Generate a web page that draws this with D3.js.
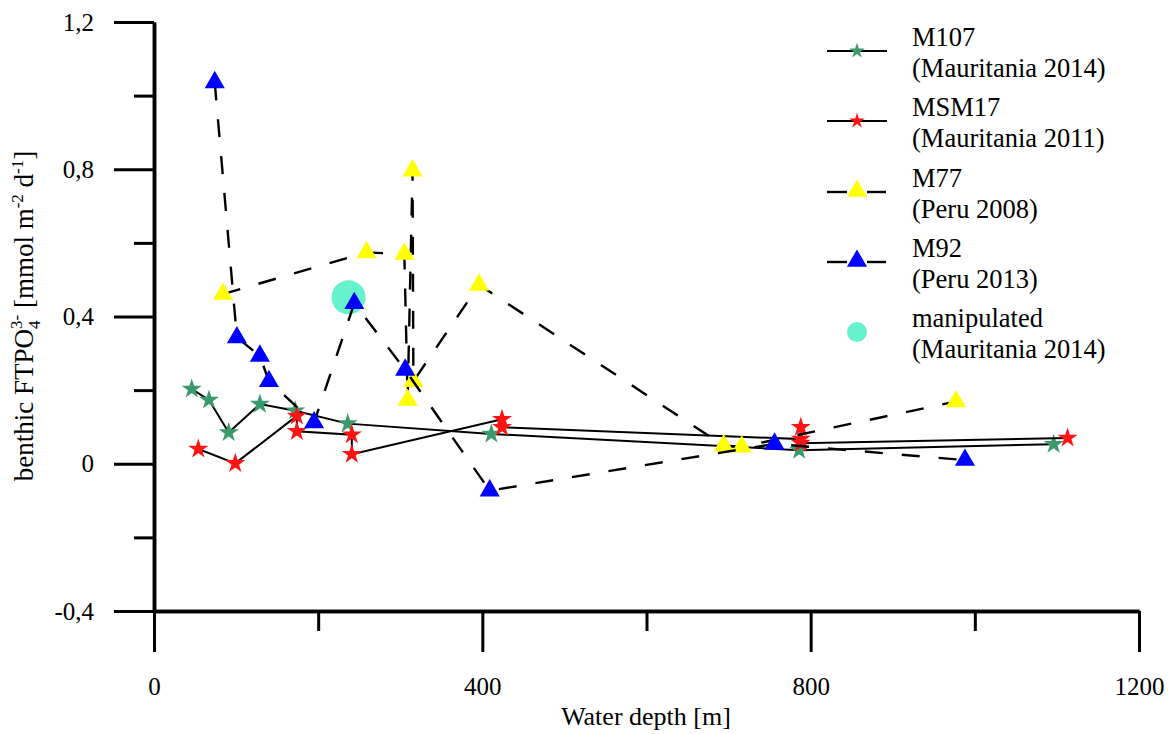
<!DOCTYPE html>
<html><head><meta charset="utf-8">
<script src="https://cdn.jsdelivr.net/npm/d3@7"></script>
<style>
html,body{margin:0;padding:0;background:#fff;}
svg{display:block;}
</style></head>
<body>
<svg id="chart" width="1172" height="734"></svg>
<script>
// ---- data ----
const m107Depth = [46, 67, 91, 129, 172, 236, 411, 786, 1096];
const m107Flux  = [0.203, 0.173, 0.085, 0.162, 0.144, 0.109, 0.081, 0.037, 0.053];

const msm17Depth = [54, 99, 174, 174, 241, 241, 424, 424, 788, 788, 788, 1113];
const msm17Flux  = [0.040, 0.001, 0.130, 0.088, 0.079, 0.026, 0.121, 0.099, 0.067, 0.099, 0.056, 0.070];

const m77Depth = [84, 259, 305, 309, 315, 316, 396, 694, 716, 977];
const m77Flux  = [0.461, 0.574, 0.570, 0.173, 0.796, 0.224, 0.486, 0.049, 0.046, 0.169];

const m92Depth = [74, 101, 129, 140, 195, 244, 306, 409, 756, 988];
const m92Flux  = [1.036, 0.343, 0.293, 0.224, 0.112, 0.436, 0.255, -0.073, 0.054, 0.010];

const manipDepth = [237];
const manipFlux  = [0.452];

const xMajorTicks = [0, 400, 800, 1200];
const xMinorTicks = [200, 600, 1000];
const yMajorTicks = [-0.4, 0, 0.4, 0.8, 1.2];
const yMajorLabels = ["-0,4", "0", "0,4", "0,8", "1,2"];
const yMinorTicks = [-0.2, 0.2, 0.6, 1.0];

const legendNames = ["M107", "MSM17", "M77", "M92", "manipulated"];
const legendSubs  = ["(Mauritania 2014)", "(Mauritania 2011)", "(Peru 2008)", "(Peru 2013)", "(Mauritania 2014)"];

// ---- setup ----
const FONT = "'Liberation Serif', 'Times New Roman', serif";
const svg = d3.select("#chart");
svg.append("rect").attr("width",1172).attr("height",734).attr("fill","#fff");

const x = d3.scaleLinear().domain([0,1200]).range([154,1139]);
const y = d3.scaleLinear().domain([-0.4,1.2]).range([611,22]);

const zip = (a,b) => a.map((d,i)=>[d,b[i]]);

const series = [
  {pts: zip(m107Depth,m107Flux), color:"#3b9a6c", shape:"star", dash:null},
  {pts: zip(msm17Depth,msm17Flux), color:"#ff1414", shape:"star", dash:null},
  {pts: zip(m77Depth,m77Flux), color:"#ffff00", shape:"tri", dash:"18,19"},
  {pts: zip(m92Depth,m92Flux), color:"#0000ff", shape:"tri", dash:"18,19"}
];

// ---- axes ----
function styleAxis(g){
  g.select(".domain").attr("stroke","#000").attr("stroke-width",3.5);
  g.selectAll(".tick line").attr("stroke","#000").attr("stroke-width",3);
  g.selectAll(".tick text").attr("font-family",FONT).attr("font-size",25).attr("fill","#000");
}
const yMinorG = svg.append("g").attr("transform","translate(154,0)")
  .call(d3.axisLeft(y).tickValues(yMinorTicks).tickSize(20).tickSizeOuter(0).tickFormat(""));
styleAxis(yMinorG);
const yMajorG = svg.append("g").attr("transform","translate(154,0)")
  .call(d3.axisLeft(y).tickValues(yMajorTicks).tickSize(40).tickSizeOuter(0).tickPadding(20)
        .tickFormat((d,i)=>yMajorLabels[i]));
styleAxis(yMajorG);

const xMinorG = svg.append("g").attr("transform","translate(0,611)")
  .call(d3.axisBottom(x).tickValues(xMinorTicks).tickSize(20).tickSizeOuter(0).tickFormat(""));
styleAxis(xMinorG);
const xMajorG = svg.append("g").attr("transform","translate(0,611)")
  .call(d3.axisBottom(x).tickValues(xMajorTicks).tickSize(41).tickSizeOuter(0).tickPadding(25)
        .tickFormat(d=>String(d)));
styleAxis(xMajorG);

// axis titles
svg.append("text").attr("x",646).attr("y",725).attr("text-anchor","middle")
  .attr("font-family",FONT).attr("font-size",26).text("Water depth [m]");

const yt = svg.append("text").attr("transform","translate(33,316) rotate(-90)")
  .attr("text-anchor","middle").attr("font-family",FONT).attr("font-size",27);
yt.append("tspan").text("benthic FTPO");
yt.append("tspan").attr("font-size",17).attr("dy",7).text("4");
yt.append("tspan").attr("font-size",17).attr("dy",-18).attr("dx",-8.5).text("3-");
yt.append("tspan").attr("dy",11).text(" [mmol m");
yt.append("tspan").attr("font-size",17).attr("dy",-10).text("-2");
yt.append("tspan").attr("dy",10).text(" d");
yt.append("tspan").attr("font-size",17).attr("dy",-10).text("-1");
yt.append("tspan").attr("dy",10).text("]");

// ---- plot ----
const starSym = d3.symbol().type(d3.symbolStar).size(125);
const triSym  = d3.symbol().type(d3.symbolTriangle).size(175);
const line = d3.line().x(d=>x(d[0])).y(d=>y(d[1]));

// manipulated circle (behind)
svg.selectAll(".manip").data(zip(manipDepth,manipFlux)).enter().append("circle")
  .attr("cx",d=>x(d[0])).attr("cy",d=>y(d[1])).attr("r",17).attr("fill","#66f2cc");

series.forEach(s=>{
  svg.append("path").datum(s.pts).attr("d",line).attr("fill","none")
    .attr("stroke","#000").attr("stroke-width",s.dash?2.4:2)
    .attr("stroke-dasharray",s.dash);
  svg.selectAll(null).data(s.pts).enter().append("path")
    .attr("d", s.shape==="star"?starSym():triSym())
    .attr("transform",d=>`translate(${x(d[0])},${y(d[1])})`)
    .attr("fill",s.color);
});

// ---- legend ----
const legendY = [51, 121, 192, 262, 332];
const lstar = d3.symbol().type(d3.symbolStar).size(75);
const ltri  = d3.symbol().type(d3.symbolTriangle).size(175);
legendNames.forEach((name,i)=>{
  const ly = legendY[i];
  const g = svg.append("g");
  if(i<2){
    g.append("line").attr("x1",827).attr("x2",887).attr("y1",ly).attr("y2",ly)
      .attr("stroke","#000").attr("stroke-width",2);
    g.append("path").attr("d",lstar()).attr("transform",`translate(857,${ly})`).attr("fill",series[i].color);
  } else if(i<4){
    g.append("line").attr("x1",827).attr("x2",847).attr("y1",ly).attr("y2",ly).attr("stroke","#000").attr("stroke-width",2.4);
    g.append("line").attr("x1",867).attr("x2",886).attr("y1",ly).attr("y2",ly).attr("stroke","#000").attr("stroke-width",2.4);
    g.append("path").attr("d",ltri()).attr("transform",`translate(857,${ly-1})`).attr("fill",series[i].color);
  } else {
    g.append("circle").attr("cx",857).attr("cy",ly).attr("r",10).attr("fill","#66f2cc");
  }
  g.append("text").attr("x",912).attr("y",ly-5).attr("font-family",FONT).attr("font-size",26.5).text(name);
  g.append("text").attr("x",912).attr("y",ly+26).attr("font-family",FONT).attr("font-size",26.5).text(legendSubs[i]);
});
</script>
</body></html>
